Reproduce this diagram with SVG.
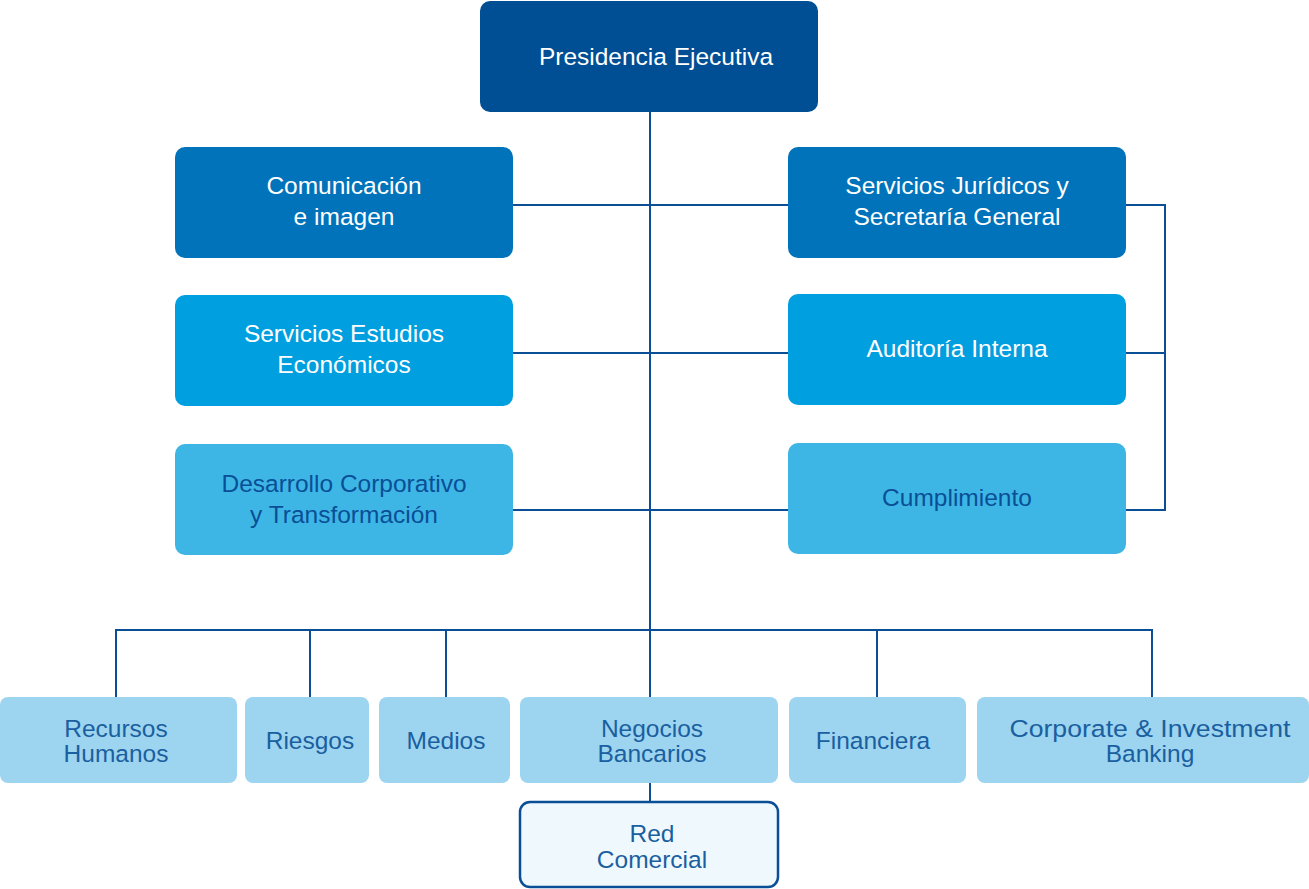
<svg xmlns="http://www.w3.org/2000/svg" width="1309" height="889" viewBox="0 0 1309 889">
<style>
.c{fill:none;stroke:#0a4f96;stroke-width:2}
.t{font-family:"Liberation Sans",Arial,sans-serif;text-anchor:middle}
.w{fill:#ffffff;font-size:24.5px}
.d{fill:#0a4f96;font-size:24.5px}
.b{fill:#1a5fa0;font-size:24.5px}
</style>
<rect width="1309" height="889" fill="#ffffff"/>
<g id="connectors">
<path class="c" d="M650 112V698"/>
<path class="c" d="M513 205H788M513 353H788M513 510H788"/>
<path class="c" d="M1126 205H1165V510H1126M1126 353H1165"/>
<path class="c" d="M116 697V630H1152V697M310 630V697M446 630V697M877 630V697"/>
<path class="c" d="M650 783V802"/>
</g>
<g id="presidencia"><rect x="480" y="1" width="338" height="111" rx="10" fill="#004e94"/><text class="t w" x="656" y="65" font-size="25.5">Presidencia Ejecutiva</text></g>
<g id="comunicacion"><rect x="175" y="147" width="338" height="111" rx="10" fill="#0073bb"/><text class="t w" x="344" y="194">Comunicación</text><text class="t w" x="344" y="225">e imagen</text></g>
<g id="juridicos"><rect x="788" y="147" width="338" height="111" rx="10" fill="#0073bb"/><text class="t w" x="957" y="194">Servicios Jurídicos y</text><text class="t w" x="957" y="225">Secretaría General</text></g>
<g id="estudios"><rect x="175" y="295" width="338" height="111" rx="10" fill="#009fdf"/><text class="t w" x="344" y="342">Servicios Estudios</text><text class="t w" x="344" y="373">Económicos</text></g>
<g id="auditoria"><rect x="788" y="294" width="338" height="111" rx="10" fill="#009fdf"/><text class="t w" x="957" y="357">Auditoría Interna</text></g>
<g id="desarrollo"><rect x="175" y="444" width="338" height="111" rx="10" fill="#3db6e6"/><text class="t d" x="344" y="492">Desarrollo Corporativo</text><text class="t d" x="344" y="523">y Transformación</text></g>
<g id="cumplimiento"><rect x="788" y="443" width="338" height="111" rx="10" fill="#3db6e6"/><text class="t d" x="957" y="506">Cumplimiento</text></g>
<g id="recursos"><rect x="0" y="697" width="237" height="86" rx="8" fill="#9dd4ef"/><text class="t b" x="116" y="737">Recursos</text><text class="t b" x="116" y="762">Humanos</text></g>
<g id="riesgos"><rect x="245" y="697" width="124" height="86" rx="8" fill="#9dd4ef"/><text class="t b" x="310" y="749">Riesgos</text></g>
<g id="medios"><rect x="379" y="697" width="131" height="86" rx="8" fill="#9dd4ef"/><text class="t b" x="446" y="749">Medios</text></g>
<g id="negocios"><rect x="520" y="697" width="258" height="86" rx="8" fill="#9dd4ef"/><text class="t b" x="652" y="737">Negocios</text><text class="t b" x="652" y="762">Bancarios</text></g>
<g id="financiera"><rect x="789" y="697" width="177" height="86" rx="8" fill="#9dd4ef"/><text class="t b" x="873" y="749">Financiera</text></g>
<g id="corporate"><rect x="977" y="697" width="332" height="86" rx="8" fill="#9dd4ef"/><text class="t b" x="1150" y="737" textLength="281" lengthAdjust="spacingAndGlyphs">Corporate &amp; Investment</text><text class="t b" x="1150" y="762">Banking</text></g>
<g id="red"><rect x="520" y="802" width="258" height="85" rx="10" fill="#eff8fd" stroke="#0a4f96" stroke-width="2.5"/><text class="t b" x="652" y="842">Red</text><text class="t b" x="652" y="868">Comercial</text></g>
</svg>
